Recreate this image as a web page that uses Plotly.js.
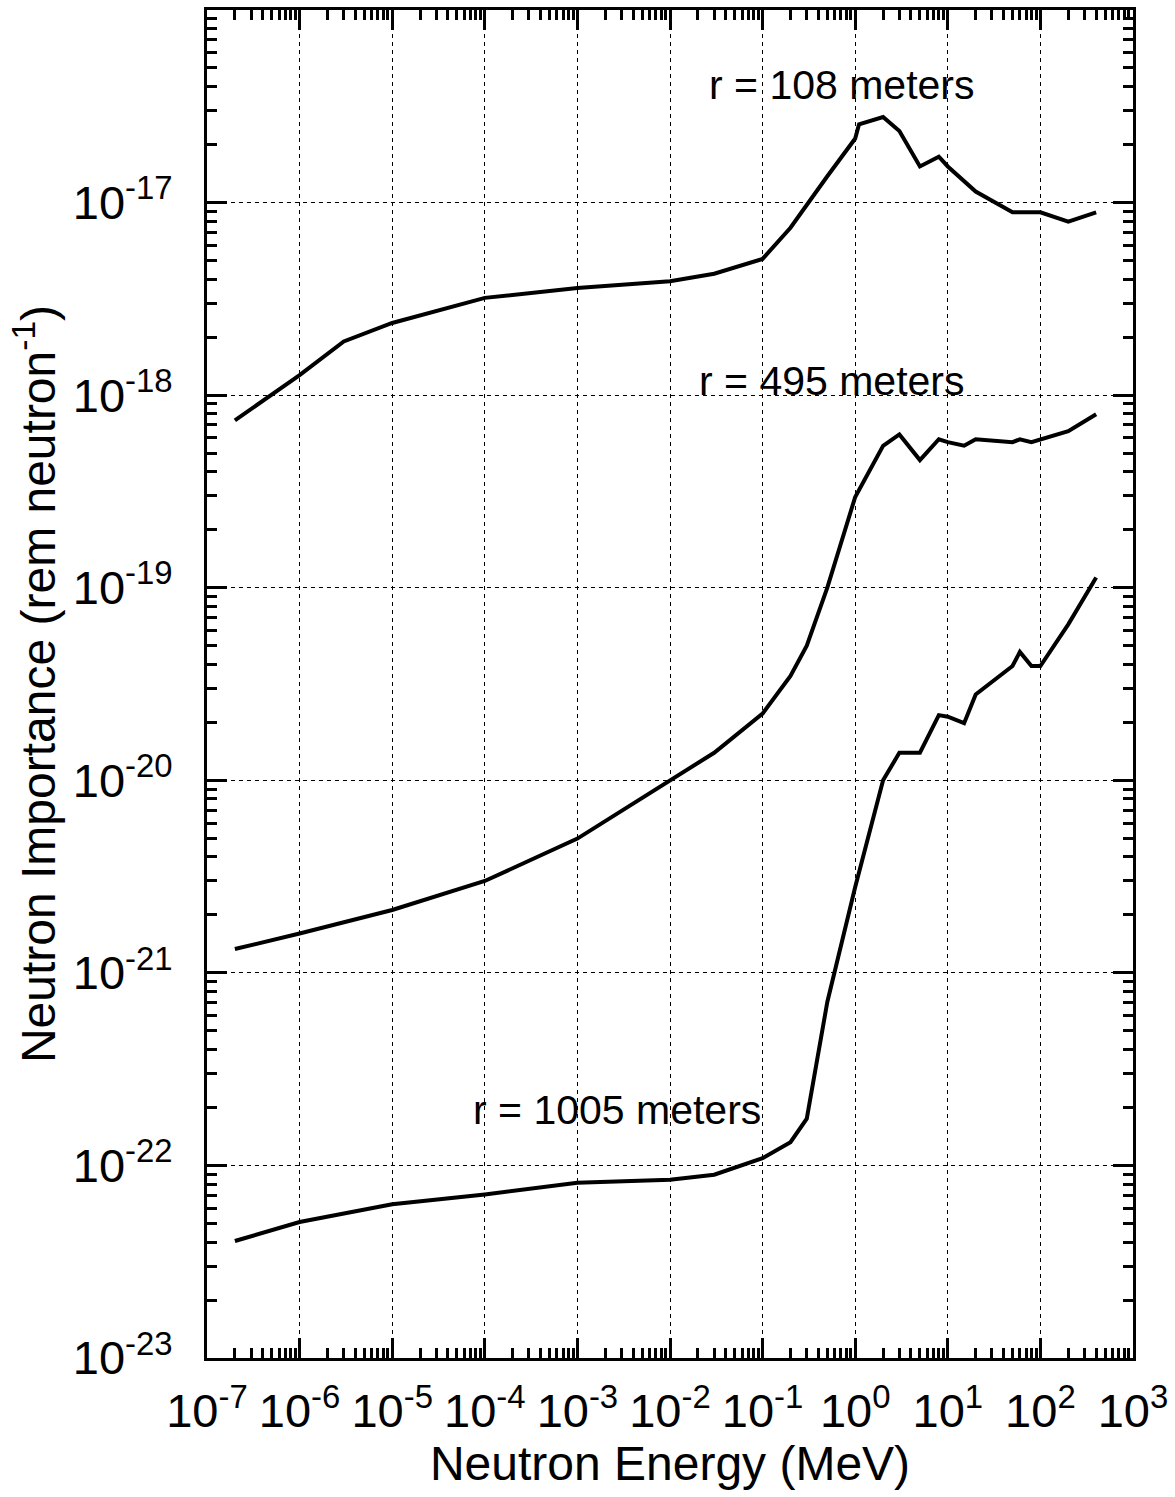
<!DOCTYPE html>
<html>
<head>
<meta charset="utf-8">
<script src="https://cdn.plot.ly/plotly-3.0.1.min.js"></script>
<style>
  html, body { margin: 0; padding: 0; background: #fff; }
  #chart { width: 1175px; height: 1497px; }
</style>
</head>
<body>
<div id="chart"></div>
<script>
// Neutron energy (MeV) and importance (rem per neutron)
const energy108 = [2e-7, 1e-6, 3e-6, 1e-5, 1e-4, 1e-3, 1e-2, 0.03, 0.1, 0.2, 0.5, 1, 1.1, 2, 3, 5, 8, 10, 20, 50, 100, 200, 400];
const imp108 = [7.4e-19, 1.27e-18, 1.9e-18, 2.37e-18, 3.2e-18, 3.6e-18, 3.9e-18, 4.27e-18, 5.1e-18, 7.4e-18, 1.37e-17, 2.15e-17, 2.55e-17, 2.78e-17, 2.35e-17, 1.54e-17, 1.73e-17, 1.54e-17, 1.14e-17, 8.9e-18, 8.9e-18, 7.96e-18, 8.9e-18];

const energy495 = [2e-7, 1e-6, 1e-5, 1e-4, 1e-3, 1e-2, 0.03, 0.1, 0.2, 0.3, 0.5, 1, 2, 3, 5, 8, 10, 15, 20, 50, 60, 80, 100, 200, 400];
const imp495 = [1.33e-21, 1.6e-21, 2.12e-21, 3.0e-21, 4.98e-21, 1.0e-20, 1.39e-20, 2.22e-20, 3.48e-20, 5.0e-20, 1.0e-19, 2.96e-19, 5.46e-19, 6.25e-19, 4.6e-19, 5.9e-19, 5.7e-19, 5.46e-19, 5.9e-19, 5.7e-19, 5.9e-19, 5.7e-19, 5.9e-19, 6.5e-19, 7.96e-19];

const energy1005 = [2e-7, 1e-6, 1e-5, 1e-4, 1e-3, 1e-2, 0.03, 0.1, 0.2, 0.3, 0.5, 1, 2, 3, 5, 8, 10, 15, 20, 50, 60, 80, 100, 200, 400];
const imp1005 = [4.05e-23, 5.08e-23, 6.28e-23, 7.07e-23, 8.13e-23, 8.43e-23, 8.95e-23, 1.09e-22, 1.32e-22, 1.75e-22, 7.06e-22, 2.79e-21, 1.0e-20, 1.39e-20, 1.39e-20, 2.18e-20, 2.14e-20, 1.98e-20, 2.79e-20, 3.92e-20, 4.64e-20, 3.92e-20, 3.92e-20, 6.45e-20, 1.13e-19];

const xTickVals = [1e-7, 1e-6, 1e-5, 1e-4, 1e-3, 1e-2, 1e-1, 1, 10, 100, 1000];
const xTickText = ['10<sup>-7</sup>', '10<sup>-6</sup>', '10<sup>-5</sup>', '10<sup>-4</sup>', '10<sup>-3</sup>', '10<sup>-2</sup>', '10<sup>-1</sup>', '10<sup>0</sup>', '10<sup>1</sup>', '10<sup>2</sup>', '10<sup>3</sup>'];
const yTickVals = [1e-23, 1e-22, 1e-21, 1e-20, 1e-19, 1e-18, 1e-17];
const yTickText = ['10<sup>-23</sup>', '10<sup>-22</sup>', '10<sup>-21</sup>', '10<sup>-20</sup>', '10<sup>-19</sup>', '10<sup>-18</sup>', '10<sup>-17</sup>'];

const seriesLabels = ['r = 108 meters', 'r = 495 meters', 'r = 1005 meters'];

const FONT = '"Liberation Sans", Arial, Helvetica, sans-serif';
const lineStyle = { color: '#000', width: 4 };

const traces = [
  { x: energy108, y: imp108, name: seriesLabels[0] },
  { x: energy495, y: imp495, name: seriesLabels[1] },
  { x: energy1005, y: imp1005, name: seriesLabels[2] }
].map(t => Object.assign(t, { type: 'scatter', mode: 'lines', line: lineStyle, hoverinfo: 'x+y+name' }));

const axisCommon = {
  type: 'log',
  showline: true, linecolor: '#000', linewidth: 3, mirror: 'ticks',
  ticks: 'inside', ticklen: 20, tickwidth: 3, tickcolor: '#000',
  tickmode: 'array',
  showgrid: true, gridcolor: '#000', gridwidth: 1, griddash: '4px,4px',
  zeroline: false,
  tickfont: { family: FONT, size: 47, color: '#000' },
  minor: { ticks: 'inside', ticklen: 10, tickwidth: 3, tickcolor: '#000', dtick: 'D1', showgrid: false }
};

const layout = {
  width: 1175, height: 1497,
  margin: { l: 207, r: 42, t: 10, b: 139, pad: 0 },
  paper_bgcolor: '#fff', plot_bgcolor: '#fff',
  showlegend: false,
  font: { family: FONT, color: '#000' },
  xaxis: Object.assign({}, axisCommon, {
    range: [-7, 3],
    tickvals: xTickVals, ticktext: xTickText,
    ticklabelstandoff: 10,
    title: { text: 'Neutron Energy (MeV)', font: { family: FONT, size: 48, color: '#000' }, standoff: 10 }
  }),
  yaxis: Object.assign({}, axisCommon, {
    range: [-23, -16],
    tickvals: yTickVals, ticktext: yTickText,
    ticklabelstandoff: 22,
    title: { text: 'Neutron Importance (rem neutron<sup>-1</sup>)', font: { family: FONT, size: 48, color: '#000' }, standoff: 2 }
  }),
  annotations: [
    { xref: 'paper', yref: 'paper', x: 0.685, y: 0.944, text: seriesLabels[0] },
    { xref: 'paper', yref: 'paper', x: 0.674, y: 0.725, text: seriesLabels[1] },
    { xref: 'paper', yref: 'paper', x: 0.443, y: 0.184, text: seriesLabels[2] }
  ].map(a => Object.assign(a, { showarrow: false, xanchor: 'center', yanchor: 'middle', font: { family: FONT, size: 41, color: '#000' } }))
};

Plotly.newPlot('chart', traces, layout, { staticPlot: true, displayModeBar: false });
</script>
</body>
</html>
